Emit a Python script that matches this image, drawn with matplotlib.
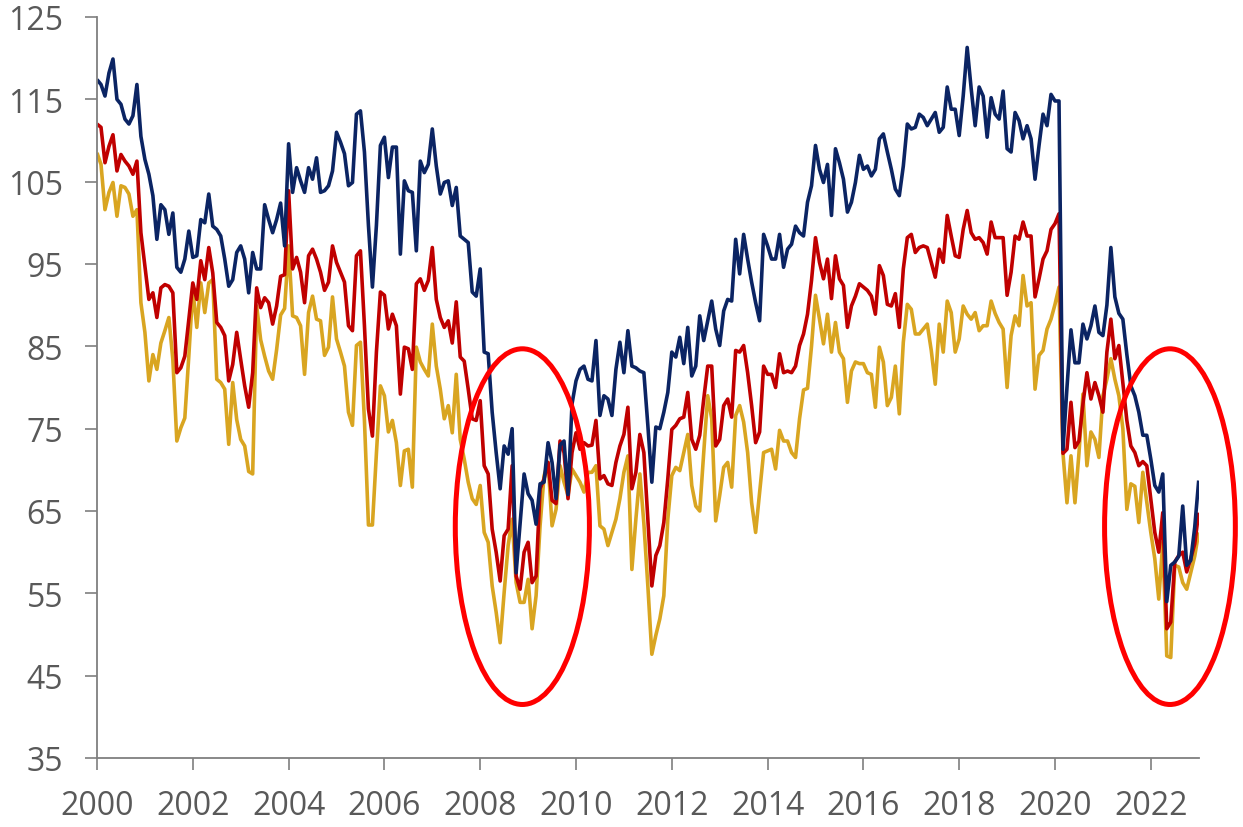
import numpy as np
import matplotlib
matplotlib.use("Agg")
import matplotlib.pyplot as plt
from matplotlib.patches import Ellipse

plt.rcParams['font.family'] = ['Open Sans', 'DejaVu Sans']

# Monthly index readings, January 2000 to January 2023
start_year = 2000

navy_series = [
    117.4, 116.8, 115.4, 118.2, 119.9, 115.0, 114.4, 112.6, 112.0, 113.0, 116.8, 110.5,
    107.7, 105.9, 103.3, 98.0, 102.2, 101.6, 98.6, 101.2, 94.6, 94.0, 95.6, 99.0,
    95.8, 96.0, 100.4, 100.0, 103.5, 99.6, 99.2, 98.4, 95.6, 92.3, 93.1, 96.4,
    97.2, 95.6, 91.5, 96.4, 94.4, 94.4, 102.2, 100.4, 98.8, 100.4, 102.4, 97.2,
    109.6, 103.7, 106.7, 105.1, 103.7, 106.7, 105.3, 107.9, 103.7, 103.9, 104.5, 106.3,
    111.0, 109.8, 108.4, 104.5, 104.9, 113.2, 113.6, 108.6, 99.7, 92.2, 99.7, 109.4,
    110.4, 105.5, 109.2, 109.2, 96.2, 105.1, 103.9, 103.7, 96.6, 107.5, 106.1, 107.1,
    111.4, 106.9, 103.5, 104.9, 105.1, 102.1, 104.3, 98.4, 98.0, 97.6, 91.6, 91.1,
    94.4, 84.3, 84.1, 77.0, 72.1, 67.7, 72.9, 71.9, 75.0, 57.5, 63.5, 69.5,
    67.1, 66.3, 63.4, 68.3, 68.5, 73.3, 70.9, 66.5, 73.0, 73.5, 67.0, 78.0,
    80.8, 82.2, 82.6, 81.0, 80.8, 85.7, 76.6, 79.0, 78.6, 76.6, 82.2, 85.5,
    81.8, 86.9, 82.6, 82.4, 82.0, 81.8, 75.4, 68.5, 75.2, 75.0, 77.0, 79.4,
    84.3, 83.7, 86.1, 82.9, 87.3, 81.4, 82.6, 88.7, 85.7, 88.1, 90.5, 87.1,
    85.1, 89.3, 90.7, 90.5, 98.0, 93.8, 98.6, 95.6, 92.8, 90.3, 88.1, 98.6,
    97.2, 95.6, 95.6, 98.6, 94.6, 96.8, 97.4, 99.6, 98.8, 98.4, 102.5, 104.5,
    109.4, 106.5, 104.9, 107.1, 100.9, 109.0, 107.3, 105.3, 101.3, 102.5, 104.9, 108.2,
    106.5, 106.9, 105.7, 106.5, 110.2, 110.8, 108.6, 106.5, 104.1, 103.3, 106.9, 112.0,
    111.4, 111.6, 113.2, 112.8, 111.8, 112.6, 113.4, 111.0, 111.6, 116.5, 113.8, 113.8,
    110.6, 115.4, 121.3, 116.3, 111.8, 116.5, 115.4, 110.4, 115.2, 113.2, 112.6, 116.0,
    109.0, 108.6, 113.4, 112.4, 110.2, 111.8, 110.2, 105.3, 109.4, 113.2, 111.8, 115.6,
    114.8, 114.8, 72.5, 80.0, 87.0, 83.0, 83.0, 87.7, 85.9, 87.5, 89.9, 86.7,
    86.3, 90.0, 97.0, 91.0, 89.0, 88.3, 84.0, 80.2, 79.0, 77.0, 74.2, 74.2,
    71.3, 68.1, 67.3, 69.5, 54.0, 58.4, 58.8, 59.5, 65.6, 58.4, 59.0, 63.0,
    68.7,
]

red_series = [
    112.0, 111.6, 107.3, 109.3, 110.7, 106.3, 108.3, 107.5, 106.9, 105.9, 107.5, 98.8,
    94.8, 90.7, 91.5, 88.5, 92.1, 92.5, 92.3, 91.5, 81.8, 82.4, 83.8, 88.3,
    92.7, 90.7, 95.4, 93.1, 97.0, 93.9, 87.9, 87.3, 86.3, 80.8, 82.8, 86.7,
    83.4, 80.2, 77.6, 81.8, 92.1, 89.7, 90.9, 90.3, 87.7, 89.9, 93.5, 93.7,
    103.9, 94.4, 95.8, 94.0, 90.3, 96.0, 96.8, 95.6, 94.0, 91.8, 92.8, 97.2,
    95.2, 94.0, 92.8, 87.5, 86.9, 96.0, 96.6, 87.5, 77.4, 74.1, 84.3, 91.6,
    91.2, 87.1, 88.9, 87.5, 79.2, 84.9, 84.7, 82.2, 92.6, 93.2, 91.8, 93.0,
    97.0, 90.7, 88.5, 87.3, 88.1, 85.4, 90.4, 83.7, 83.2, 79.8, 76.2, 76.0,
    78.4, 70.5, 69.5, 62.8, 60.0, 56.5, 62.0, 62.8, 70.5, 57.1, 55.5, 60.0,
    61.2, 56.3, 57.1, 67.7, 68.9, 70.9, 66.3, 65.9, 73.5, 72.1, 66.5, 72.1,
    74.5, 72.5, 73.3, 72.9, 73.0, 76.0, 68.9, 69.3, 68.3, 68.1, 70.9, 72.9,
    74.3, 77.6, 67.7, 69.7, 74.3, 72.1, 64.0, 55.9, 59.6, 60.8, 63.6, 68.9,
    74.9, 75.4, 76.2, 76.4, 79.4, 73.7, 72.5, 74.2, 78.6, 82.6, 82.6, 72.9,
    73.7, 77.8, 78.6, 76.4, 84.5, 84.3, 85.1, 81.8, 77.8, 73.3, 74.6, 82.6,
    81.6, 81.6, 80.0, 84.1, 81.8, 82.0, 81.8, 82.6, 85.1, 86.5, 88.9, 93.0,
    98.2, 95.2, 93.2, 95.6, 90.8, 96.0, 93.2, 92.4, 87.3, 89.9, 91.1, 92.6,
    92.2, 91.8, 91.1, 88.9, 94.8, 93.6, 90.1, 89.9, 91.4, 87.3, 94.4, 98.2,
    98.6, 96.4, 97.0, 97.2, 97.0, 95.2, 93.4, 96.8, 95.2, 100.9, 98.4, 96.0,
    95.8, 99.2, 101.5, 98.8, 98.0, 98.2, 97.6, 96.2, 100.1, 98.2, 98.2, 98.2,
    91.2, 94.0, 98.4, 98.0, 100.1, 98.4, 98.4, 91.0, 93.2, 95.6, 96.6, 99.2,
    99.9, 101.1, 72.0, 72.5, 78.2, 72.7, 73.5, 78.0, 81.8, 78.6, 80.6, 79.0,
    77.0, 84.3, 88.3, 83.5, 85.1, 80.6, 76.0, 72.9, 72.1, 70.5, 71.0, 70.5,
    66.5, 62.4, 60.0, 64.8, 50.7, 51.5, 58.8, 59.6, 60.0, 57.6, 59.2, 61.0,
    64.8,
]

gold_series = [
    108.5, 107.1, 101.6, 103.7, 104.9, 100.8, 104.5, 104.3, 103.5, 100.8, 101.6, 90.3,
    86.7, 80.8, 84.0, 82.2, 85.4, 86.9, 88.5, 83.4, 73.5, 75.1, 76.3, 83.8,
    91.9, 87.3, 92.7, 89.1, 92.7, 93.1, 81.0, 80.6, 79.8, 73.1, 80.6, 76.1,
    73.7, 72.9, 69.8, 69.5, 89.9, 85.8, 83.8, 82.0, 81.0, 84.6, 88.8, 89.6,
    97.2, 88.7, 88.5, 87.5, 81.6, 89.1, 91.1, 88.3, 88.1, 83.9, 84.9, 91.0,
    85.9, 84.3, 82.6, 77.0, 75.4, 85.1, 85.5, 76.0, 63.3, 63.3, 72.0, 80.2,
    79.0, 74.6, 76.0, 73.3, 68.1, 72.3, 72.5, 67.9, 84.9, 83.1, 82.2, 81.4,
    87.7, 82.6, 79.8, 76.2, 77.8, 74.5, 81.6, 73.7, 71.3, 68.5, 66.5, 65.8,
    68.1, 62.4, 61.2, 55.9, 52.7, 49.0, 55.1, 60.8, 64.0, 56.3, 53.9, 53.9,
    56.7, 50.7, 54.7, 63.2, 69.3, 70.9, 63.2, 65.2, 70.5, 68.5, 66.9, 70.1,
    69.3, 68.5, 67.3, 69.7, 69.7, 70.5, 63.2, 62.8, 60.8, 62.4, 64.0, 66.5,
    69.7, 71.7, 57.9, 64.0, 69.5, 63.5, 55.9, 47.6, 49.9, 51.9, 54.7, 64.0,
    69.3, 70.3, 69.9, 72.1, 74.3, 68.1, 65.6, 65.0, 72.1, 79.0, 76.2, 63.8,
    66.9, 70.3, 70.9, 67.9, 76.6, 77.8, 75.8, 72.1, 66.0, 62.4, 67.3, 72.1,
    72.3, 72.5, 70.1, 74.8, 73.5, 73.5, 72.1, 71.5, 76.2, 79.7, 79.9, 85.0,
    91.2, 88.3, 85.3, 88.9, 84.3, 87.9, 84.3, 83.5, 78.2, 82.0, 83.1, 82.9,
    82.9, 81.8, 81.6, 77.6, 84.9, 83.1, 77.8, 78.8, 82.6, 76.8, 85.5, 90.1,
    89.5, 86.5, 86.5, 87.1, 87.7, 84.5, 80.4, 87.7, 84.3, 90.5, 89.1, 84.3,
    85.9, 89.9, 88.9, 88.3, 89.1, 86.9, 87.5, 87.5, 90.5, 89.0, 87.9, 87.1,
    80.0, 86.3, 88.7, 87.5, 93.6, 89.9, 90.3, 79.8, 83.9, 84.5, 87.1, 88.3,
    90.1, 92.2, 72.0, 66.0, 71.7, 66.0, 72.0, 79.2, 70.5, 74.6, 73.7, 71.5,
    79.0, 81.0, 83.5, 81.0, 79.0, 75.0, 65.2, 68.3, 68.0, 63.6, 69.7, 66.0,
    62.4, 59.2, 54.3, 61.2, 47.4, 47.2, 58.4, 58.2, 56.3, 55.5, 57.5, 59.5,
    62.4,
]

y_ticks = [35, 45, 55, 65, 75, 85, 95, 105, 115, 125]
x_ticks = [2000, 2002, 2004, 2006, 2008, 2010, 2012, 2014, 2016, 2018, 2020, 2022]

# Highlighted periods: (centre year, centre value, width in years, height in index points)
highlights = [(2008.88, 63.1, 2.80, 43.2), (2022.40, 63.1, 2.73, 43.2)]

NAVY = '#0B2463'
RED = '#C00000'
GOLD = '#D9A521'
AXIS_GREY = '#7F7F7F'
LABEL_GREY = '#595959'

W, H = 1243, 828
fig = plt.figure(figsize=(W / 100, H / 100), dpi=100)
ax = fig.add_axes([97 / W, 1 - 759 / H, (1198.7 - 97) / W, (759 - 18) / H])

months = start_year + np.arange(len(navy_series)) / 12.0
for values, colour in ((gold_series, GOLD), (red_series, RED), (navy_series, NAVY)):
    ax.plot(months, values, color=colour, lw=2.6, solid_joinstyle='round',
            solid_capstyle='butt')

ax.set_xlim(2000, 2023)
ax.set_ylim(35, 125)
ax.set_xticks(x_ticks)
ax.set_xticklabels([str(t) for t in x_ticks])
ax.set_yticks(y_ticks)
ax.set_yticklabels([str(t) for t in y_ticks])

for side in ('top', 'right'):
    ax.spines[side].set_visible(False)
for side in ('left', 'bottom'):
    ax.spines[side].set_color(AXIS_GREY)
    ax.spines[side].set_linewidth(1.3)

ax.tick_params(axis='both', direction='out', length=8.5, width=1.2,
               color=AXIS_GREY, labelsize=23, labelcolor=LABEL_GREY)
ax.tick_params(axis='y', pad=16)
ax.tick_params(axis='x', pad=14)

for cx, cy, w, h in highlights:
    ax.add_patch(Ellipse((cx, cy), w, h, fill=False, edgecolor='#FF0000',
                         lw=3.6, clip_on=False, zorder=5))

fig.savefig('out.png', dpi=100)
